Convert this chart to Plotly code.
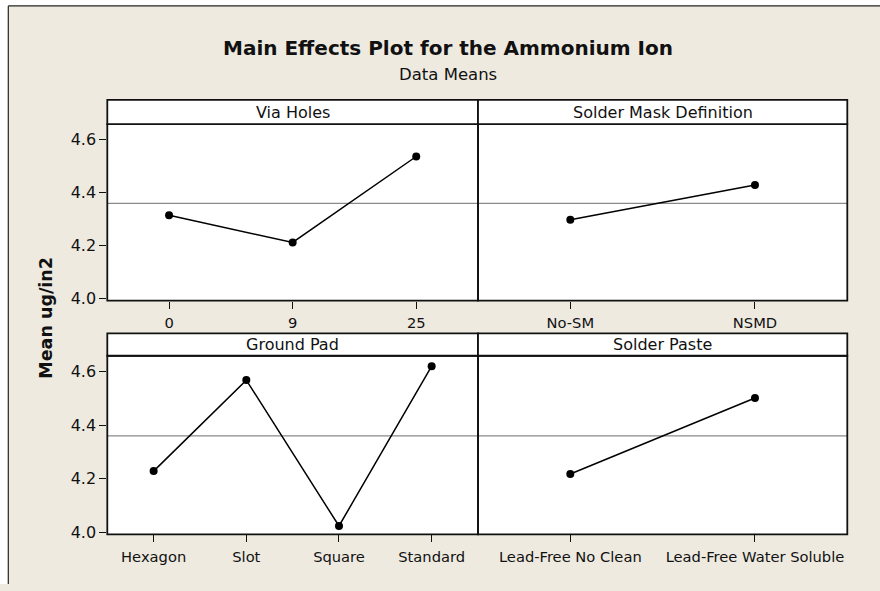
import plotly.graph_objects as go

W, H = 880, 591

# ---------------- data ----------------
via_levels = ["0", "9", "25"]
via_means = [4.315, 4.212, 4.537]
mask_levels = ["No-SM", "NSMD"]
mask_means = [4.298, 4.429]
pad_levels = ["Hexagon", "Slot", "Square", "Standard"]
pad_means = [4.228, 4.568, 4.023, 4.620]
paste_levels = ["Lead-Free No Clean", "Lead-Free Water Soluble"]
paste_means = [4.217, 4.501]
grand_mean = 4.36
y_ticks = [4.0, 4.2, 4.4, 4.6]
panel_titles = ["Via Holes", "Solder Mask Definition", "Ground Pad", "Solder Paste"]
chart_title = "Main Effects Plot for the Ammonium Ion"
chart_subtitle = "Data Means"
y_label = "Mean ug/in2"

# ---------------- style / geometry ----------------
FONT = "DejaVu Sans"
BG = "#EEEAE0"
INK = "#111111"
Y_RANGE = [3.992, 4.659]


def fx(x):
    return x / W


def fy(y):
    return 1 - y / H


cols = [(107.3, 478.0), (478.0, 847.3)]
rows = [(101.0, 125.7, 304.3), (337.3, 360.0, 540.7)]  # strip top, plot top, plot bottom

panels = [
    (via_levels, via_means, 0, 0),
    (mask_levels, mask_means, 0, 1),
    (pad_levels, pad_means, 1, 0),
    (paste_levels, paste_means, 1, 1),
]

fig = go.Figure()
shapes = []
annotations = []
layout_axes = {}

for i, (levels, means, r, c) in enumerate(panels):
    n = i + 1
    xa = "x" if n == 1 else f"x{n}"
    ya = "y" if n == 1 else f"y{n}"
    fig.add_trace(go.Scatter(
        x=levels, y=means, xaxis=xa, yaxis=ya, mode="lines+markers",
        line=dict(color="black", width=1.5),
        marker=dict(color="black", size=8, symbol="circle"),
        showlegend=False, hoverinfo="x+y", cliponaxis=False,
    ))
    x0, x1 = cols[c]
    st, pt, pb = rows[r]
    layout_axes[f"xaxis{n}" if n > 1 else "xaxis"] = dict(
        domain=[fx(x0), fx(x1)], anchor=ya, type="category",
        categoryorder="array", categoryarray=levels,
        range=[-0.5, len(levels) - 0.5],
        showline=False, ticks="outside", ticklen=7, tickwidth=1.2, tickcolor=INK,
        ticklabelstandoff=2,
        showgrid=False, zeroline=False, fixedrange=True,
        tickfont=dict(family=FONT, size=14.7, color=INK),
    )
    left = c == 0
    layout_axes[f"yaxis{n}" if n > 1 else "yaxis"] = dict(
        domain=[fy(pb), fy(pt)], anchor=xa, range=Y_RANGE,
        tickvals=y_ticks, tickformat=".1f",
        showticklabels=left, ticks="outside" if left else "",
        ticklen=7, tickwidth=1.2, tickcolor=INK,
        showline=False, showgrid=False, zeroline=False, fixedrange=True,
        tickfont=dict(family=FONT, size=16, color=INK),
    )
    # grand mean reference line
    shapes.append(dict(
        type="line", xref=f"{xa} domain", yref=ya, x0=0, x1=1,
        y0=grand_mean, y1=grand_mean, line=dict(color="#8a8a8a", width=1.2),
        layer="below",
    ))
    # panel border
    shapes.append(dict(
        type="rect", xref="paper", yref="paper",
        x0=fx(x0), x1=fx(x1), y0=fy(pb), y1=fy(pt),
        line=dict(color=INK, width=1.8), layer="above",
    ))
    # strip header box
    shapes.append(dict(
        type="rect", xref="paper", yref="paper",
        x0=fx(x0), x1=fx(x1), y0=fy(pt), y1=fy(st),
        fillcolor="white", line=dict(color=INK, width=1.8), layer="above",
    ))
    annotations.append(dict(
        text=panel_titles[i], xref="paper", yref="paper",
        x=fx((x0 + x1) / 2), y=fy((st + pt) / 2),
        xanchor="center", yanchor="middle", showarrow=False,
        font=dict(family=FONT, size=16, color=INK),
    ))

# outer frame (white outside, dark line on top and left)
shapes += [
    dict(type="rect", xref="paper", yref="paper", x0=0, x1=fx(8.3), y0=0, y1=1,
         fillcolor="white", line=dict(width=0), layer="below"),
    dict(type="rect", xref="paper", yref="paper", x0=0, x1=1, y0=fy(6), y1=1,
         fillcolor="white", line=dict(width=0), layer="below"),
    dict(type="line", xref="paper", yref="paper", x0=fx(8.3), x1=fx(8.3), y0=0, y1=fy(6),
         line=dict(color="#222222", width=1.2)),
    dict(type="line", xref="paper", yref="paper", x0=fx(8.3), x1=1, y0=fy(6), y1=fy(6),
         line=dict(color="#222222", width=1.2)),
]

annotations += [
    dict(text=f"<b>{chart_title}</b>", xref="paper", yref="paper",
         x=fx(448), y=fy(49), xanchor="center", yanchor="middle", showarrow=False,
         font=dict(family=FONT, size=20, color=INK)),
    dict(text=chart_subtitle, xref="paper", yref="paper",
         x=fx(448), y=fy(75), xanchor="center", yanchor="middle", showarrow=False,
         font=dict(family=FONT, size=16.5, color=INK)),
    dict(text=f"<b>{y_label}</b>", xref="paper", yref="paper",
         x=fx(46.5), y=fy(322), xanchor="center", yanchor="middle", showarrow=False,
         textangle=-90, font=dict(family=FONT, size=17.5, color=INK)),
]

fig.update_layout(
    width=W, height=H, autosize=False,
    margin=dict(l=0, r=0, t=0, b=0, pad=0),
    paper_bgcolor=BG, plot_bgcolor="white",
    shapes=shapes, annotations=annotations,
    showlegend=False,
    **layout_axes,
)

fig.write_html(
    "out.html",
    config={"displayModeBar": False},
    post_script="document.body.style.margin='0';document.body.style.padding='0';",
)
